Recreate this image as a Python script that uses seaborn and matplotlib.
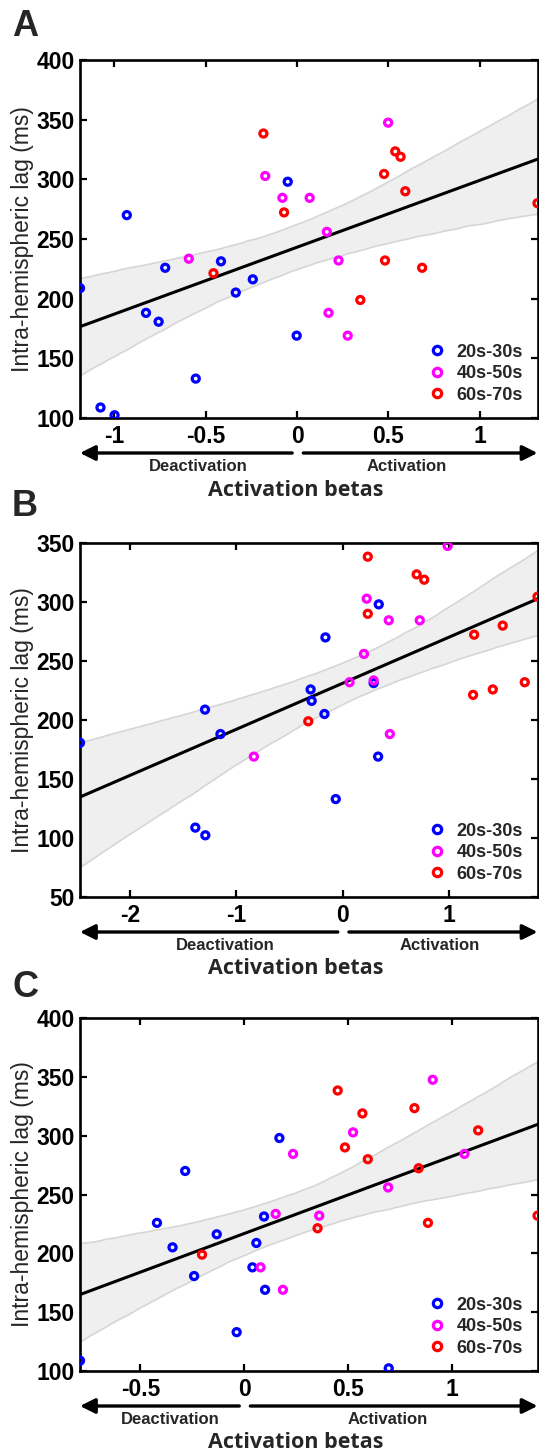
import numpy as np
import pandas as pd
import matplotlib
matplotlib.use("Agg")
import matplotlib.pyplot as plt
import matplotlib.transforms as mtransforms
from matplotlib.lines import Line2D
import seaborn as sns

# ---------------- data ----------------
groups = ["20s-30s", "40s-50s", "60s-70s"]
group_colors = ["#0000FF", "#FF00FF", "#FF0000"]

# intra-hemispheric lag (ms), same subjects in every panel
lag_20s = [298, 270, 231.3, 225.9, 216.2, 208.8, 205.1, 188.1, 180.7, 169, 133, 108.8, 102.3]
lag_40s = [347.5, 302.8, 284.5, 284.5, 256, 233.5, 232, 188.1, 169]
lag_60s = [338.4, 323.4, 318.9, 304.5, 290, 280, 272.3, 232, 225.9, 221.3, 198.9]

# activation betas, panel A
beta_A_20s = [-0.051, -0.931, -0.416, -0.721, -0.242, -1.187, -0.335, -0.826, -0.757, -0.002, -0.554, -1.075, -0.998]
beta_A_40s = [0.498, -0.174, -0.080, 0.069, 0.163, -0.592, 0.227, 0.172, 0.277]
beta_A_60s = [-0.184, 0.537, 0.566, 0.476, 0.592, 1.315, -0.071, 0.481, 0.684, -0.457, 0.346]

# activation betas, panel B
beta_B_20s = [0.339, -0.162, 0.291, -0.301, -0.291, -1.293, -0.171, -1.148, -2.467, 0.333, -0.065, -1.384, -1.290]
beta_B_40s = [0.986, 0.226, 0.433, 0.724, 0.200, 0.291, 0.065, 0.443, -0.834]
beta_B_60s = [0.236, 0.695, 0.766, 1.830, 0.236, 1.503, 1.235, 1.710, 1.410, 1.225, -0.323]

# activation betas, panel C
beta_C_20s = [0.170, -0.284, 0.096, -0.420, -0.132, 0.059, -0.345, 0.040, -0.241, 0.101, -0.036, -0.791, 0.697]
beta_C_40s = [0.909, 0.525, 0.236, 1.062, 0.694, 0.152, 0.362, 0.079, 0.187]
beta_C_60s = [0.451, 0.821, 0.570, 1.128, 0.486, 0.596, 0.841, 1.414, 0.886, 0.354, -0.203]

panel_labels = ["A", "B", "C"]
xticks_A = [-1, -0.5, 0, 0.5, 1]
xticks_B = [-2, -1, 0, 1]
xticks_C = [-0.5, 0, 0.5, 1]
yticks_A = [100, 150, 200, 250, 300, 350, 400]
yticks_B = [50, 100, 150, 200, 250, 300, 350]
yticks_C = [100, 150, 200, 250, 300, 350, 400]

ylabel = "Intra-hemispheric lag (ms)"
xlabel = "Activation betas"
left_text = "Deactivation"
right_text = "Activation"


def make_df(b20, b40, b60):
    return pd.DataFrame({
        "beta": b20 + b40 + b60,
        "lag": lag_20s + lag_40s + lag_60s,
        "group": [groups[0]] * len(b20) + [groups[1]] * len(b40) + [groups[2]] * len(b60),
    })


panels = [
    (make_df(beta_A_20s, beta_A_40s, beta_A_60s), xticks_A, yticks_A),
    (make_df(beta_B_20s, beta_B_40s, beta_B_60s), xticks_B, yticks_B),
    (make_df(beta_C_20s, beta_C_40s, beta_C_60s), xticks_C, yticks_C),
]

# ---------------- layout (pixels) ----------------
W, H = 539, 1451
AX_LEFT, AX_RIGHT = 80, 537.5
layout = [
    dict(top=60, bottom=418, letter_y=9, deact_x=198, act_x=407),
    dict(top=543, bottom=897, letter_y=489, deact_x=225, act_x=440),
    dict(top=1018, bottom=1371, letter_y=970, deact_x=170, act_x=388),
]

sns.set_style("ticks")
plt.rcParams["font.family"] = ["Liberation Sans", "DejaVu Sans"]
plt.rcParams["axes.unicode_minus"] = False

fig = plt.figure(figsize=(W / 100, H / 100), dpi=100)

for (df, xt, yt), lay, letter in zip(panels, layout, panel_labels):
    axh = lay["bottom"] - lay["top"]
    ax = fig.add_axes([AX_LEFT / W, 1 - lay["bottom"] / H,
                       (AX_RIGHT - AX_LEFT) / W, axh / H])
    xmin, xmax = df["beta"].min(), df["beta"].max()
    ax.set_xlim(xmin, xmax)
    ax.set_ylim(yt[0], yt[-1])

    sns.regplot(data=df, x="beta", y="lag", scatter=False, ci=95, truncate=False,
                color="black", seed=3, n_boot=2000, line_kws=dict(lw=2.2), ax=ax)
    band = ax.collections[0]
    band.set_facecolor("#efefef")
    band.set_edgecolor("#d6d6d6")
    band.set_alpha(1)
    band.set_linewidth(1.2)

    sns.scatterplot(data=df, x="beta", y="lag", hue="group", hue_order=groups,
                    palette=group_colors, s=26, linewidth=2.3, legend=False,
                    ax=ax, zorder=4)
    pts = ax.collections[-1]
    fc = pts.get_facecolors()
    pts.set_edgecolors(fc)
    pts.set_facecolors("none")

    ax.set_xlim(xmin, xmax)
    ax.set_ylim(yt[0], yt[-1])
    ax.set_xticks(xt)
    ax.set_xticklabels([f"{v:g}" for v in xt])
    ax.set_yticks(yt)
    ax.set_yticklabels([f"{v:g}" for v in yt])
    ax.tick_params(direction="in", length=5, width=1.6, top=True, right=True,
                   labelsize=16.5, colors="black")
    ax.tick_params(axis="x", pad=5)
    ax.tick_params(axis="y", pad=4)
    for lbl in ax.get_xticklabels() + ax.get_yticklabels():
        lbl.set_fontweight("bold")
    for sp in ax.spines.values():
        sp.set_linewidth(1.9)
        sp.set_color("black")

    ax.set_xlabel("")
    ax.set_ylabel(ylabel, fontsize=16.5)
    ax.yaxis.label.set_va("center")
    ax.yaxis.set_label_coords((23 - AX_LEFT) / (AX_RIGHT - AX_LEFT), 0.5)

    handles = [Line2D([], [], marker="o", ls="", mfc="none", mec=c, mew=2.3, ms=6)
               for c in group_colors]
    ax.legend(handles, groups, loc="lower right", frameon=False,
              prop=dict(weight="bold", size=13), handletextpad=0.5,
              labelspacing=0.25, borderaxespad=0.4, handlelength=1.2)

    # arrows under the x axis
    trans = mtransforms.blended_transform_factory(ax.transData, ax.transAxes)
    yf = -35 / axh
    arrow_style = "-|>,head_length=0.9,head_width=0.45"
    ax.annotate("", xy=(xmin, yf), xytext=(0, yf), xycoords=trans, textcoords=trans,
                arrowprops=dict(arrowstyle=arrow_style, color="black", lw=2.4,
                                shrinkA=3.5, shrinkB=0), annotation_clip=False)
    ax.annotate("", xy=(xmax, yf), xytext=(0, yf), xycoords=trans, textcoords=trans,
                arrowprops=dict(arrowstyle=arrow_style, color="black", lw=2.4,
                                shrinkA=4.5, shrinkB=0), annotation_clip=False)

    fig.text(lay["deact_x"] / W, 1 - (lay["bottom"] + 48) / H, left_text,
             ha="center", va="center", fontsize=12, fontweight="bold")
    fig.text(lay["act_x"] / W, 1 - (lay["bottom"] + 48) / H, right_text,
             ha="center", va="center", fontsize=12, fontweight="bold")
    fig.text(296 / W, 1 - (lay["bottom"] + 72) / H, xlabel,
             ha="center", va="center", fontsize=15.5, fontweight="bold",
             family=["Open Sans", "DejaVu Sans"])
    fig.text(12 / W, 1 - lay["letter_y"] / H, letter, ha="left", va="top",
             fontsize=26, fontweight="bold")

fig.savefig("out.png", dpi=100)
